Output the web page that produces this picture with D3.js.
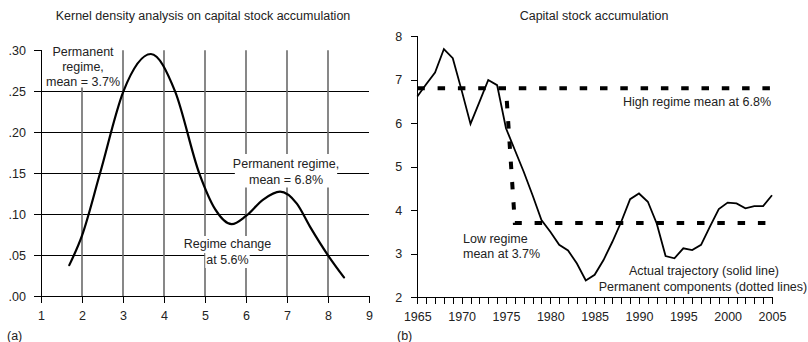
<!DOCTYPE html>
<html>
<head>
<meta charset="utf-8">
<script src="https://cdn.jsdelivr.net/npm/d3@7/dist/d3.min.js"></script>
<style>
  html, body { margin: 0; padding: 0; background: #fff; }
  svg { display: block; }
  text { font-family: "Liberation Sans", Arial, Helvetica, sans-serif; font-size: 12.5px; fill: #222; }
  .axis path, .axis line { stroke: #000; stroke-width: 1; shape-rendering: crispEdges; }
  .axis text { font-family: "Liberation Sans", Arial, Helvetica, sans-serif; font-size: 12.5px; fill: #222; }
</style>
</head>
<body>
<svg id="chart" width="808" height="342"></svg>
<script>
// ---- Panel (a): kernel density of capital stock accumulation (%) ----
const densityGrowth = [1.69, 2.00, 2.44, 3.01, 3.68, 4.27, 4.86, 5.25, 5.65, 6.00, 6.42, 6.83, 7.24, 7.56, 8.00, 8.39];
const densityValue  = [0.038, 0.074, 0.150, 0.250, 0.2955, 0.250, 0.150, 0.106, 0.088, 0.098, 0.118, 0.1276, 0.113, 0.085, 0.050, 0.023];
const densityXTicks = [1, 2, 3, 4, 5, 6, 7, 8, 9];
const densityYTicks = [0, 0.05, 0.10, 0.15, 0.20, 0.25, 0.30];
const densityYLabels = [".00", ".05", ".10", ".15", ".20", ".25", ".30"];
const densityVGrid = [2, 3, 4, 5, 6, 7, 8];
const densityHGrid = [0.05, 0.10, 0.15, 0.20, 0.25];

// ---- Panel (b): capital stock accumulation, 1965-2005 (%) ----
const years = [1965, 1966, 1967, 1968, 1969, 1970, 1971, 1972, 1973, 1974, 1975, 1976, 1977, 1978,
               1979, 1980, 1981, 1982, 1983, 1984, 1985, 1986, 1987, 1988, 1989, 1990, 1991, 1992,
               1993, 1994, 1995, 1996, 1997, 1998, 1999, 2000, 2001, 2002, 2003, 2004, 2005];
const accumulation = [6.61, 6.89, 7.16, 7.70, 7.49, 6.75, 5.98, 6.48, 6.99, 6.87, 5.88, 5.38, 4.88, 4.34,
                      3.77, 3.50, 3.20, 3.07, 2.77, 2.38, 2.51, 2.85, 3.27, 3.73, 4.25, 4.38, 4.19, 3.69,
                      2.94, 2.89, 3.12, 3.08, 3.20, 3.62, 4.02, 4.17, 4.15, 4.04, 4.09, 4.09, 4.34];
const highRegime = { start: 1965, end: 2005, mean: 6.8 };
const lowRegime  = { start: 1976, end: 2005, mean: 3.7 };
const regimeBreak = 1975;
const accYTicks = [2, 3, 4, 5, 6, 7, 8];
const accXLabels = ["1965", "1970", "1975", "1980", "1985", "1990", "1995", "2000", "2005"];

const svg = d3.select("#chart");

// ================= Panel (a) =================
const xA = d3.scaleLinear().domain([1, 9]).range([41, 369]);
const yA = d3.scaleLinear().domain([0, 0.30]).range([296.3, 50.3]);
const gA = svg.append("g");

gA.selectAll("line.hgrid").data(densityHGrid).join("line")
  .attr("x1", xA(1)).attr("x2", xA(9))
  .attr("y1", d => Math.round(yA(d)) + 0.5).attr("y2", d => Math.round(yA(d)) + 0.5)
  .attr("stroke", "#000").attr("stroke-width", 1);

gA.selectAll("line.vgrid").data(densityVGrid).join("line")
  .attr("x1", d => xA(d)).attr("x2", d => xA(d))
  .attr("y1", yA(0)).attr("y2", yA(0.30))
  .attr("stroke", "#6a6a6a").attr("stroke-width", 1.6);

// text labels sitting on white boxes that mask the grid
function boxedLabel(g, cx, baselines, lines, perLine, pad) {
  const grp = g.append("g");
  const texts = lines.map((t, i) => grp.append("text")
    .attr("x", cx).attr("y", baselines[i]).attr("text-anchor", "middle").text(t));
  const boxes = texts.map(t => t.node().getBBox());
  if (perLine) {
    boxes.forEach((b, i) => {
      const top = i === 0 ? b.y - pad.top : baselines[i - 1] + 5;
      const bottom = i === boxes.length - 1 ? b.y + b.height + pad.bottom : baselines[i] + 5;
      grp.insert("rect", "text").attr("x", b.x - pad.side).attr("y", top)
        .attr("width", b.width + 2 * pad.side).attr("height", bottom - top).attr("fill", "#fff");
    });
  } else {
    const x0 = d3.min(boxes, b => b.x), x1 = d3.max(boxes, b => b.x + b.width);
    const y0 = d3.min(boxes, b => b.y), y1 = d3.max(boxes, b => b.y + b.height);
    grp.insert("rect", "text").attr("x", x0 - pad.side).attr("y", y0 - pad.top)
      .attr("width", x1 - x0 + 2 * pad.side).attr("height", y1 - y0 + pad.top + pad.bottom)
      .attr("fill", "#fff");
  }
}

boxedLabel(gA, 83, [56, 71, 86], ["Permanent", "regime,", "mean = 3.7%"], false, { side: 0, top: 0, bottom: -1.5 });
boxedLabel(gA, 286, [168, 183.5], ["Permanent regime,", "mean = 6.8%"], false, { side: -2, top: 3, bottom: 1 });
boxedLabel(gA, 227.5, [248, 264], ["Regime change", "at 5.6%"], true, { side: 1, top: 1, bottom: 1 });

gA.append("g").attr("class", "axis")
  .attr("transform", `translate(${xA(1)},0)`)
  .call(d3.axisLeft(yA).tickValues(densityYTicks).tickSize(7).tickPadding(8)
        .tickFormat((d, i) => densityYLabels[i]));

gA.append("g").attr("class", "axis")
  .attr("transform", `translate(0,${yA(0)})`)
  .call(d3.axisBottom(xA).tickValues(densityXTicks).tickSize(7).tickPadding(8).tickFormat(d3.format("d")));

const densityLine = d3.line()
  .x((d, i) => xA(densityGrowth[i]))
  .y(d => yA(d))
  .curve(d3.curveMonotoneX);
gA.append("path").datum(densityValue)
  .attr("d", densityLine).attr("fill", "none")
  .attr("stroke", "#000").attr("stroke-width", 2.2).attr("stroke-linecap", "round");

gA.append("text").attr("x", 203).attr("y", 20).attr("text-anchor", "middle")
  .text("Kernel density analysis on capital stock accumulation");
gA.append("text").attr("x", 7).attr("y", 339.5).text("(a)");

// ================= Panel (b) =================
const xB = d3.scaleLinear().domain([1965, 2005]).range([417.3, 772]);
const yB = d3.scaleLinear().domain([2, 8]).range([297, 36]);
const gB = svg.append("g");

gB.append("g").attr("class", "axis")
  .attr("transform", `translate(${xB(1965)},0)`)
  .call(d3.axisLeft(yB).tickValues(accYTicks).tickSize(6).tickPadding(9).tickFormat(d3.format("d")));

gB.append("g").attr("class", "axis")
  .attr("transform", `translate(0,${yB(2)})`)
  .call(d3.axisBottom(xB).tickValues(years).tickSize(7).tickPadding(8)
        .tickFormat(d => accXLabels.includes(String(d)) ? String(d) : ""));

const dash = "7.5,12.8";
gB.append("path")
  .attr("d", d3.line()([[xB(highRegime.start), yB(highRegime.mean)], [xB(highRegime.end), yB(highRegime.mean)]]))
  .attr("fill", "none").attr("stroke", "#000").attr("stroke-width", 4)
  .attr("stroke-dasharray", dash);

gB.append("path")
  .attr("d", d3.line()([
    [xB(regimeBreak), yB(highRegime.mean)],
    [xB(lowRegime.start), yB(lowRegime.mean)],
    [xB(lowRegime.end), yB(lowRegime.mean)]
  ]))
  .attr("fill", "none").attr("stroke", "#000").attr("stroke-width", 4)
  .attr("stroke-dasharray", dash).attr("stroke-dashoffset", 7.5);

const accLine = d3.line().x((d, i) => xB(years[i])).y(d => yB(d));
gB.append("path").datum(accumulation)
  .attr("d", accLine).attr("fill", "none")
  .attr("stroke", "#000").attr("stroke-width", 1.8).attr("stroke-linejoin", "miter");

gB.append("text").attr("x", 594).attr("y", 20).attr("text-anchor", "middle").text("Capital stock accumulation");
gB.append("text").attr("x", 623).attr("y", 106).text("High regime mean at 6.8%");
gB.append("text").attr("x", 463).attr("y", 242.5).text("Low regime");
gB.append("text").attr("x", 463).attr("y", 257.5).text("mean at 3.7%");
gB.append("text").attr("x", 704).attr("y", 275).attr("text-anchor", "middle").text("Actual trajectory (solid line)");
gB.append("text").attr("x", 703).attr("y", 290.5).attr("text-anchor", "middle").text("Permanent components (dotted lines)");
gB.append("text").attr("x", 397).attr("y", 339.5).text("(b)");
</script>
</body>
</html>
